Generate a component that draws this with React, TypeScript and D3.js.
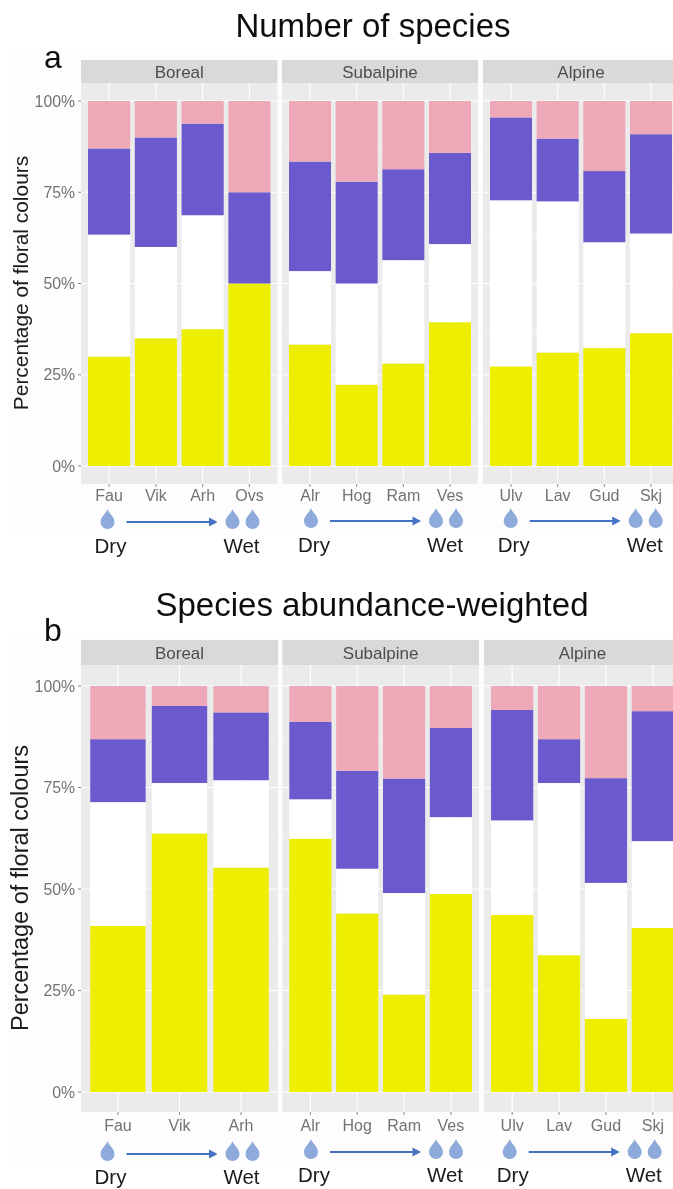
import React from 'react'
import * as d3 from 'd3'

const width = 673
const height = 1189
const fontFamily = '"Liberation Sans", Arial, sans-serif'

const zones = ['Boreal', 'Subalpine', 'Alpine']
const colourKeys = ['yellow', 'white', 'purple', 'pink']
const colours = { yellow: '#eeee00', white: '#ffffff', purple: '#6a5acd', pink: '#eea9b8' }
const yTicks = [0, 25, 50, 75, 100]
const yMinor = [12.5, 37.5, 62.5, 87.5]

// number of species, one inner list per zone
const sitesA = [
  ['Fau', 'Vik', 'Arh', 'Ovs'],
  ['Alr', 'Hog', 'Ram', 'Ves'],
  ['Ulv', 'Lav', 'Gud', 'Skj'],
]
const yellowA = [
  [30, 35, 37.5, 50],
  [33.3, 22.3, 28.1, 39.4],
  [27.3, 31.1, 32.3, 36.4],
]
const whiteA = [
  [33.4, 25, 31.2, 0],
  [20.1, 27.7, 28.3, 21.4],
  [45.5, 41.4, 29, 27.3],
]
const purpleA = [
  [23.6, 30, 25.1, 25],
  [30, 27.9, 24.9, 25],
  [22.7, 17.2, 19.5, 27.2],
]
const pinkA = [
  [13, 10, 6.2, 25],
  [16.6, 22.1, 18.7, 14.2],
  [4.5, 10.3, 19.2, 9.1],
]

// abundance weighted
const sitesB = [
  ['Fau', 'Vik', 'Arh'],
  ['Alr', 'Hog', 'Ram', 'Ves'],
  ['Ulv', 'Lav', 'Gud', 'Skj'],
]
const yellowB = [
  [40.9, 63.7, 55.3],
  [62.4, 44, 24, 48.8],
  [43.6, 33.7, 18, 40.4],
]
const whiteB = [
  [30.5, 12.4, 21.5],
  [9.7, 11, 25, 18.9],
  [23.3, 42.4, 33.5, 21.4],
]
const purpleB = [
  [15.5, 19, 16.7],
  [19.1, 24.1, 28.2, 22],
  [27.2, 10.8, 25.8, 32],
]
const pinkB = [
  [13.1, 4.9, 6.5],
  [8.8, 20.9, 22.8, 10.3],
  [5.9, 13.1, 22.7, 6.2],
]

function dropPath(cx: number, top: number, w: number, h: number) {
  const p = d3.path()
  const r = w / 2
  const cy = top + h - r
  p.moveTo(cx, top)
  p.bezierCurveTo(cx + r * 0.15, top + h * 0.2, cx + r, cy - r * 0.8, cx + r, cy)
  p.arc(cx, cy, r, 0, Math.PI)
  p.bezierCurveTo(cx - r, cy - r * 0.8, cx - r * 0.15, top + h * 0.2, cx, top)
  p.closePath()
  return p.toString()
}

function Gradient({ x, top, textY }: { x: number; top: number; textY: number }) {
  // x is the centre of the single drop, top the top of the drops
  const midY = top + 13
  const drop = '#8eaadb'
  return (
    <g>
      <path d={dropPath(x, top, 14, 20)} fill={drop} />
      <path d={dropPath(x + 125, top, 14, 20)} fill={drop} />
      <path d={dropPath(x + 145, top, 14, 20)} fill={drop} />
      <line x1={x + 19} x2={x + 103} y1={midY} y2={midY} stroke="#4472c4" strokeWidth={2.2} />
      <path
        d={d3.line()([
          [x + 101.5, midY - 4.5],
          [x + 110, midY],
          [x + 101.5, midY + 4.5],
        ]) + 'Z'}
        fill="#4472c4"
      />
      <text x={x + 3} y={textY} fontSize={20.5} textAnchor="middle" fill="#1a1a1a">
        Dry
      </text>
      <text x={x + 134} y={textY} fontSize={20.5} textAnchor="middle" fill="#1a1a1a">
        Wet
      </text>
    </g>
  )
}

function Facet({ name, sites, rows, x0, x1, stripTop, stripBottom, panelBottom, y, labelY, dropX, dropY, textY, showY }: any) {
  // ggplot style discrete expansion: 0.6 of a step each side of the outer ticks
  const step = (x1 - x0) / (sites.length + 0.2)
  const xScale = d3
    .scaleBand()
    .domain(sites)
    .range([x0 + 0.1 * step, x1 - 0.1 * step])
    .paddingInner(0.1)
    .paddingOuter(0.05)
  const series = d3.stack().keys(colourKeys)(rows)
  const center = (s: string) => (xScale(s) as number) + xScale.bandwidth() / 2

  return (
    <g>
      <rect x={x0} y={stripTop} width={x1 - x0} height={stripBottom - stripTop} fill="#d9d9d9" />
      <text x={(x0 + x1) / 2} y={(stripTop + stripBottom) / 2 + 6} fontSize={17} textAnchor="middle" fill="#4d4d4d">
        {name}
      </text>
      <rect x={x0} y={stripBottom} width={x1 - x0} height={panelBottom - stripBottom} fill="#ebebeb" />
      {yMinor.map(t => (
        <line key={t} x1={x0} x2={x1} y1={y(t)} y2={y(t)} stroke="#f3f3f3" strokeWidth={0.7} />
      ))}
      {yTicks.map(t => (
        <line key={t} x1={x0} x2={x1} y1={y(t)} y2={y(t)} stroke="#ffffff" strokeWidth={1.1} />
      ))}
      {sites.map((s: string) => (
        <line key={s} x1={center(s)} x2={center(s)} y1={stripBottom} y2={panelBottom} stroke="#ffffff" strokeWidth={1.1} />
      ))}
      {series.map(layer =>
        layer.map((d, i) => (
          <rect
            key={layer.key + i}
            x={xScale(sites[i])}
            width={xScale.bandwidth()}
            y={y(d[1])}
            height={y(d[0]) - y(d[1])}
            fill={colours[layer.key]}
          />
        )),
      )}
      {sites.map((s: string) => (
        <g key={s}>
          <line x1={center(s)} x2={center(s)} y1={panelBottom} y2={panelBottom + 3} stroke="#8a8a8a" />
          <text x={center(s)} y={labelY} fontSize={16} textAnchor="middle" fill="#737373">
            {s}
          </text>
        </g>
      ))}
      {showY &&
        yTicks.map(t => (
          <g key={t}>
            <line x1={x0 - 3} x2={x0} y1={y(t)} y2={y(t)} stroke="#8a8a8a" />
            <text x={x0 - 6} y={y(t) + 5.5} fontSize={15.8} textAnchor="end" fill="#737373">
              {t}%
            </text>
          </g>
        ))}
      <Gradient x={dropX} top={dropY} textY={textY} />
    </g>
  )
}

function Plot({ title, titleY, letter, letterY, sites, yellow, white, purple, pink, layout, axisLabelSize }: any) {
  const y = d3.scaleLinear().domain([0, 100]).range([layout.y0, layout.y100])
  return (
    <g>
      <rect x={8} y={layout.bgTop} width={665} height={layout.bgBottom - layout.bgTop} fill="#fdfdfd" />
      <text x={layout.titleX} y={titleY} fontSize={33} textAnchor="middle" fill="#111111">
        {title}
      </text>
      <text x={53} y={letterY} fontSize={32} textAnchor="middle" fill="#111111">
        {letter}
      </text>
      <text
        transform={`translate(${layout.labelX},${layout.labelCenter}) rotate(-90)`}
        fontSize={axisLabelSize}
        textAnchor="middle"
        fill="#1a1a1a"
      >
        Percentage of floral colours
      </text>
      {zones.map((z, i) => {
        const rows = sites[i].map((_: string, k: number) => ({
          yellow: yellow[i][k],
          white: white[i][k],
          purple: purple[i][k],
          pink: pink[i][k],
        }))
        return (
          <Facet
            key={z}
            name={z}
            sites={sites[i]}
            rows={rows}
            x0={layout.panels[i][0]}
            x1={layout.panels[i][1]}
            stripTop={layout.stripTop}
            stripBottom={layout.stripBottom}
            panelBottom={layout.panelBottom}
            y={y}
            labelY={layout.labelY}
            dropX={layout.drops[i]}
            dropY={layout.dropY[i]}
            textY={layout.dropY[i] + layout.textOffset}
            showY={i === 0}
          />
        )
      })}
    </g>
  )
}

const layoutA = {
  titleX: 373,
  y0: 466,
  y100: 101,
  labelX: 27.5,
  labelCenter: 283,
  bgTop: 55,
  bgBottom: 529,
  stripTop: 60,
  stripBottom: 83,
  panelBottom: 484,
  labelY: 501,
  panels: [
    [81, 277.5],
    [282, 478],
    [483, 679],
  ],
  drops: [107.5, 311, 510.7],
  dropY: [509, 508, 508],
  textOffset: 44,
}

const layoutB = {
  titleX: 372,
  y0: 1092,
  y100: 686,
  labelX: 28,
  labelCenter: 888,
  bgTop: 633,
  bgBottom: 1163,
  stripTop: 640,
  stripBottom: 665,
  panelBottom: 1112,
  labelY: 1131,
  panels: [
    [81, 278],
    [282.3, 479],
    [484, 681],
  ],
  drops: [107.5, 311, 509.7],
  dropY: [1141, 1139, 1139],
  textOffset: 43,
}

export default function App() {
  return (
    <svg
      width={width}
      height={height}
      viewBox={`0 0 ${width} ${height}`}
      fontFamily={fontFamily}
      style={{ position: 'absolute', left: 0, top: 0, background: '#ffffff' }}
    >
      <defs>
        <filter id="soft" x="0" y="0" width="100%" height="100%">
          <feGaussianBlur stdDeviation="0.45" />
        </filter>
      </defs>
      <g filter="url(#soft)">
        <Plot
          title="Number of species"
          titleY={37}
          letter="a"
          letterY={68}
          sites={sitesA}
          yellow={yellowA}
          white={whiteA}
          purple={purpleA}
          pink={pinkA}
          layout={layoutA}
          axisLabelSize={20.9}
        />
        <Plot
          title="Species abundance-weighted"
          titleY={616}
          letter="b"
          letterY={641}
          sites={sitesB}
          yellow={yellowB}
          white={whiteB}
          purple={purpleB}
          pink={pinkB}
          layout={layoutB}
          axisLabelSize={23.5}
        />
      </g>
    </svg>
  )
}
